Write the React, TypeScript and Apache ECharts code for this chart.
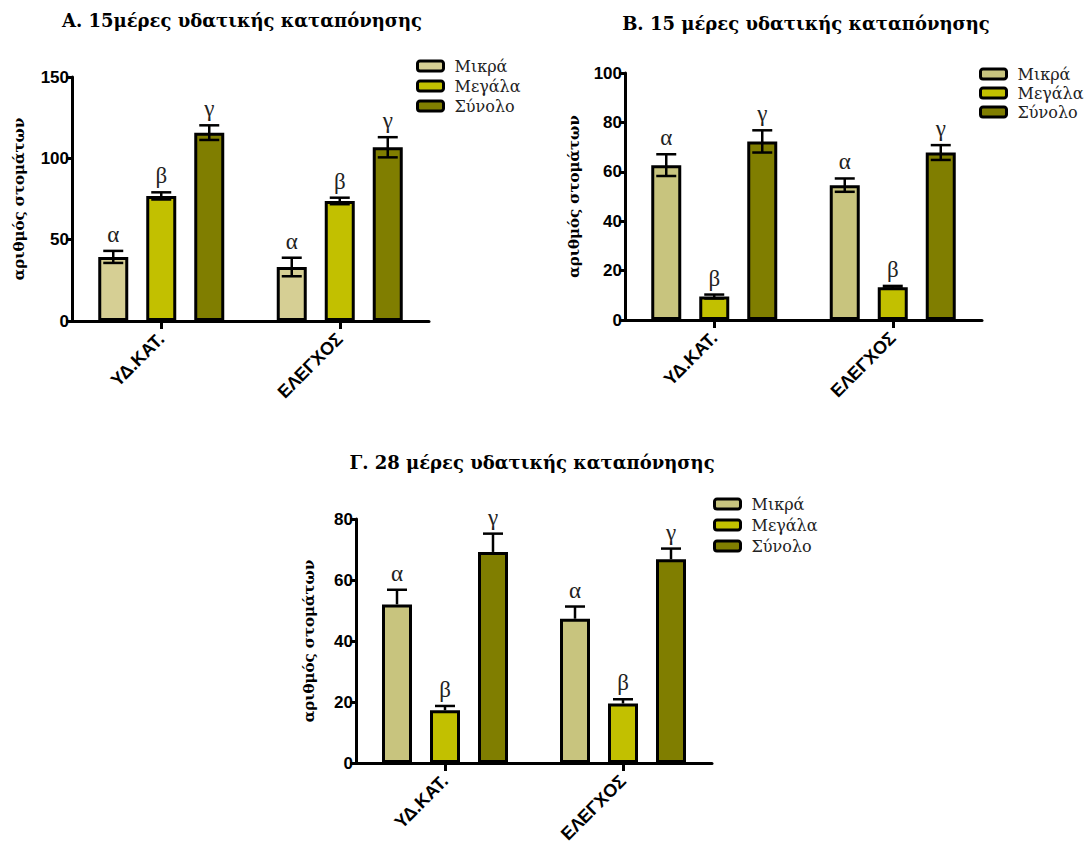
import React, { useEffect, useRef } from "react";
import * as echarts from "echarts";

// ---------- data ----------
const categories = ["ΥΔ.ΚΑΤ.", "ΕΛΕΓΧΟΣ"];
const seriesNames = ["Μικρά", "Μεγάλα", "Σύνολο"];
const letters = ["α", "β", "γ"];
const yAxisName = "αριθμός στομάτων";

const titleA = "Α. 15μέρες υδατικής καταπόνησης";
const titleB = "Β. 15 μέρες υδατικής καταπόνησης";
const titleC = "Γ. 28 μέρες υδατικής καταπόνησης";

// Panel A
const aSmall = [39.4, 33.2];
const aLarge = [76.9, 73.8];
const aTotal = [115.8, 106.8];
const aSmallErr = [3.7, 5.7];
const aLargeErr = [2.2, 2.0];
const aTotalErr = [4.5, 6.2];

// Panel B
const bSmall = [62.7, 54.6];
const bLarge = [9.5, 13.3];
const bTotal = [72.3, 67.8];
const bSmallErr = [4.4, 2.7];
const bLargeErr = [0.8, 0.5];
const bTotalErr = [4.5, 3.0];

// Panel C
const cSmall = [52.0, 47.3];
const cLarge = [17.3, 19.5];
const cTotal = [69.2, 66.8];
const cSmallErr = [4.8, 4.0];
const cLargeErr = [1.4, 1.4];
const cTotalErr = [6.0, 3.5];

// y axis ranges / ticks
const aYMax = 150, aYStep = 50;
const bYMax = 100, bYStep = 20;
const cYMax = 80, cYStep = 20;

// ---------- styles ----------
const colorsA = ["#D6CF94", "#C2C000", "#807E00"];
const colorsBC = ["#C8C47E", "#C2C000", "#807E00"];
const BAR_W = 30;
const BAR_GAP = 0.6;
const CAP = 10;
const SERIF = "DejaVu Serif";
const SANS = "Liberation Sans";

type Panel = {
  values: number[][];
  errs: number[][];
  colors: string[];
  upperOnly: boolean;
};

const panels: Panel[] = [
  { values: [aSmall, aLarge, aTotal], errs: [aSmallErr, aLargeErr, aTotalErr], colors: colorsA, upperOnly: false },
  { values: [bSmall, bLarge, bTotal], errs: [bSmallErr, bLargeErr, bTotalErr], colors: colorsBC, upperOnly: false },
  { values: [cSmall, cLarge, cTotal], errs: [cSmallErr, cLargeErr, cTotalErr], colors: colorsBC, upperOnly: true },
];

const grids = [
  { left: 72, top: 77, width: 357, height: 244 },
  { left: 625, top: 73, width: 357, height: 247 },
  { left: 356, top: 519, width: 356, height: 244 },
];

const yRanges = [
  [aYMax, aYStep],
  [bYMax, bYStep],
  [cYMax, cYStep],
];

const nameGaps = [46, 44, 40];

function buildOption() {
  const xAxis = grids.map((_, p) => ({
    type: "category",
    gridIndex: p,
    data: categories,
    axisLine: { show: true, lineStyle: { color: "#000", width: 3 } },
    axisTick: { show: true, alignWithLabel: true, length: 8, lineStyle: { color: "#000", width: 3 } },
    axisLabel: {
      rotate: 45,
      margin: 15,
      fontFamily: SANS,
      fontWeight: "bold",
      fontSize: 18,
      color: "#000",
    },
    splitLine: { show: false },
  }));

  const yAxis = grids.map((_, p) => ({
    type: "value",
    gridIndex: p,
    min: 0,
    max: yRanges[p][0],
    interval: yRanges[p][1],
    name: yAxisName,
    nameLocation: "middle",
    nameGap: nameGaps[p],
    nameRotate: 90,
    nameTextStyle: { fontFamily: SERIF, fontWeight: "bold", fontSize: 15, color: "#000" },
    axisLine: { show: true, lineStyle: { color: "#000", width: 3 } },
    axisTick: { show: true, length: 6, lineStyle: { color: "#000", width: 3 } },
    axisLabel: { fontFamily: SANS, fontWeight: "bold", fontSize: 17, color: "#000", margin: 3 },
    splitLine: { show: false },
  }));

  const series: any[] = [];
  panels.forEach((panel, p) => {
    panel.values.forEach((vals, k) => {
      series.push({
        type: "bar",
        name: seriesNames[k],
        xAxisIndex: p,
        yAxisIndex: p,
        data: vals,
        barWidth: BAR_W,
        barGap: BAR_GAP * 100 + "%",
        itemStyle: { color: panel.colors[k], borderColor: "#000", borderWidth: 3 },
        emphasis: { disabled: true },
      });
    });
    panel.values.forEach((vals, k) => {
      const offset = (k - 1) * BAR_W * (1 + BAR_GAP);
      series.push({
        type: "custom",
        xAxisIndex: p,
        yAxisIndex: p,
        z: 5,
        clip: false,
        encode: { x: 0, y: 1 },
        data: vals.map((v, i) => [i, v, panel.errs[k][i]]),
        renderItem: (params: any, api: any) => {
          const i = api.value(0);
          const v = api.value(1);
          const e = api.value(2);
          const base = api.coord([i, v]);
          const x = base[0] + offset;
          const yTop = api.coord([i, v + e])[1];
          const yBot = panel.upperOnly ? base[1] : api.coord([i, v - e])[1];
          const ls = { stroke: "#000", lineWidth: 2.5 };
          const children: any[] = [
            { type: "line", shape: { x1: x, y1: yTop, x2: x, y2: yBot }, style: ls },
            { type: "line", shape: { x1: x - CAP, y1: yTop, x2: x + CAP, y2: yTop }, style: ls },
          ];
          if (!panel.upperOnly) {
            children.push({ type: "line", shape: { x1: x - CAP, y1: yBot, x2: x + CAP, y2: yBot }, style: ls });
          }
          children.push({
            type: "text",
            style: {
              text: letters[k],
              x: x,
              y: yTop - 5,
              align: "center",
              verticalAlign: "bottom",
              fontFamily: "Liberation Serif",
              fontSize: 23,
              fill: "#222",
            },
          });
          return { type: "group", children };
        },
      });
    });
  });

  const legendPos = [
    { left: 416, top: 58, gap: 4 },
    { left: 979, top: 66, gap: 3 },
    { left: 713, top: 496, gap: 5 },
  ];
  const legend = panels.map((panel, p) => ({
    orient: "vertical",
    left: legendPos[p].left,
    top: legendPos[p].top,
    padding: 0,
    itemWidth: 26,
    itemHeight: 10,
    itemGap: legendPos[p].gap,
    selectedMode: false,
    itemStyle: { borderColor: "#000", borderWidth: 3 },
    textStyle: { fontFamily: SERIF, fontSize: 16, color: "#222", lineHeight: 15, padding: [0, 0, 0, 6] },
    data: seriesNames.map((n, k) => ({ name: n, itemStyle: { color: panel.colors[k], borderColor: "#000", borderWidth: 3 } })),
  }));

  const titleStyle = { fontFamily: SERIF, fontWeight: "bold", fontSize: 18, color: "#000" };
  const title = [
    { text: titleA, left: 242, top: 11, textAlign: "center", textStyle: titleStyle, padding: 0 },
    { text: titleB, left: 806, top: 14, textAlign: "center", textStyle: titleStyle, padding: 0 },
    { text: titleC, left: 532, top: 453, textAlign: "center", textStyle: titleStyle, padding: 0 },
  ];

  return {
    animation: false,
    backgroundColor: "#fff",
    title,
    legend,
    grid: grids.map((g) => ({ ...g, containLabel: false })),
    xAxis,
    yAxis,
    series,
  };
}

export default function App() {
  const ref = useRef<HTMLDivElement>(null);
  useEffect(() => {
    if (!ref.current) return;
    const chart = echarts.init(ref.current, undefined, { renderer: "svg" });
    chart.setOption(buildOption() as any);
    return () => chart.dispose();
  }, []);
  return (
    <div
      ref={ref}
      style={{ position: "absolute", left: 0, top: 0, width: 1086, height: 846, background: "#fff" }}
    />
  );
}
